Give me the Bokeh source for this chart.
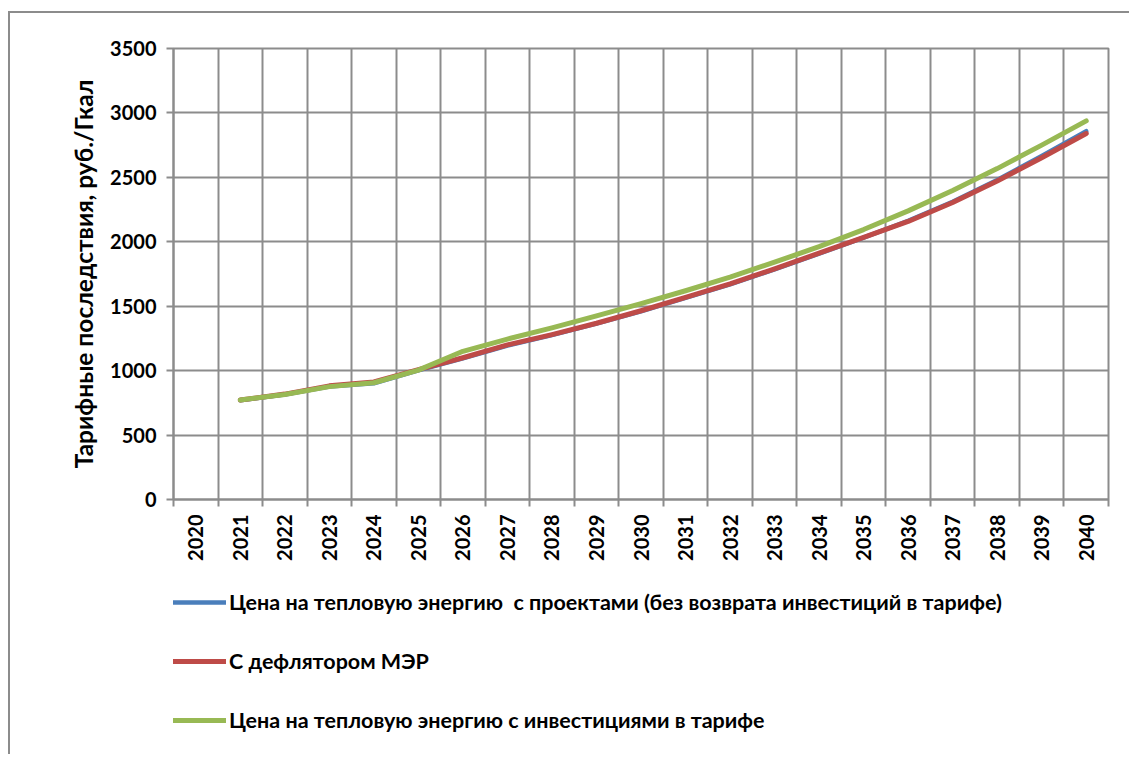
import math
from bokeh.plotting import figure
from bokeh.layouts import column
from bokeh.models import FixedTicker, Legend, LegendItem, Range1d
from bokeh.embed import file_html
from bokeh.resources import INLINE

# ---- data ----
years = [2021, 2022, 2023, 2024, 2025, 2026, 2027, 2028, 2029, 2030,
         2031, 2032, 2033, 2034, 2035, 2036, 2037, 2038, 2039, 2040]
price_projects = [770, 815, 876, 902, 1002, 1095, 1195, 1276, 1365, 1460,
                  1565, 1670, 1786, 1908, 2032, 2162, 2310, 2480, 2665, 2858]
price_deflator = [772, 818, 882, 912, 1008, 1100, 1200, 1280, 1368, 1465,
                  1568, 1674, 1790, 1912, 2034, 2158, 2305, 2472, 2652, 2840]
price_invest = [772, 815, 876, 906, 1004, 1150, 1245, 1332, 1425, 1520,
                1620, 1726, 1842, 1962, 2095, 2240, 2398, 2568, 2750, 2938]
axis_years = list(range(2020, 2041))
y_ticks = [0, 500, 1000, 1500, 2000, 2500, 3000, 3500]

labels = [
    "Цена на тепловую энергию  с проектами (без возврата инвестиций в тарифе)",
    "С дефлятором МЭР",
    "Цена на тепловую энергию с инвестициями в тарифе",
]
colors = ["#4A7EBB", "#BE4B48", "#98B954"]
series = [price_projects, price_deflator, price_invest]
widths = [4.5, 5, 5]

GRID = "#8c8c8c"
FONT = "Lato"
W = 1119

# ---------------- main chart ----------------
p = figure(frame_width=935, frame_height=451,
           min_border_left=163, min_border_top=35,
           min_border_right=21, min_border_bottom=70,
           x_range=Range1d(axis_years[0] - 0.5, axis_years[-1] + 0.5),
           y_range=Range1d(0, 3500),
           output_backend="svg", toolbar_location=None)
p.outline_line_color = GRID
p.outline_line_width = 2
p.background_fill_color = "white"
p.border_fill_color = "white"

boundaries = [y - 0.5 for y in axis_years] + [axis_years[-1] + 0.5]
p.xgrid.ticker = FixedTicker(ticks=boundaries)
p.ygrid.ticker = FixedTicker(ticks=y_ticks)
for g in (p.xgrid, p.ygrid):
    g.grid_line_color = GRID
    g.grid_line_width = 2

xa = p.xaxis[0]
xa.ticker = FixedTicker(ticks=axis_years, minor_ticks=boundaries)
xa.major_tick_out = 0
xa.major_tick_in = 0
xa.minor_tick_out = 7
xa.minor_tick_in = 0
xa.minor_tick_line_color = GRID
xa.minor_tick_line_width = 2
xa.axis_line_color = GRID
xa.axis_line_width = 2
xa.major_label_orientation = math.pi / 2
xa.major_label_standoff = 8
xa.major_label_text_font = FONT
xa.major_label_text_font_style = "bold"
xa.major_label_text_font_size = "20px"
xa.major_label_text_color = "black"

ya = p.yaxis[0]
ya.ticker = FixedTicker(ticks=y_ticks)
ya.major_tick_out = 7
ya.major_tick_in = 0
ya.major_tick_line_color = GRID
ya.major_tick_line_width = 2
ya.minor_tick_line_color = None
ya.axis_line_color = GRID
ya.axis_line_width = 2
ya.major_label_standoff = 10
ya.major_label_text_font = FONT
ya.major_label_text_font_style = "bold"
ya.major_label_text_font_size = "20px"
ya.major_label_text_color = "black"
ya.axis_label = "Тарифные последствия, руб./Гкал"
ya.axis_label_text_font = FONT
ya.axis_label_text_font_style = "bold"
ya.axis_label_text_font_size = "24.5px"
ya.axis_label_text_color = "black"
ya.axis_label_standoff = 9

for vals, c, w in zip(series, colors, widths):
    p.line(years, vals, line_color=c, line_width=w,
           line_cap="round", line_join="round")

# ---------------- legend strip below the chart ----------------
LEG_H = 185
q = figure(width=W, height=LEG_H, min_border=0,
           x_range=Range1d(0, 1), y_range=Range1d(0, 1),
           x_axis_type=None, y_axis_type=None,
           output_backend="svg", toolbar_location=None)
q.outline_line_color = None
q.grid.visible = False
q.background_fill_color = "white"
q.border_fill_color = "white"

leg_renderers = []
for vals, c, w in zip(series, colors, widths):
    # the series lie outside this strip's view; only their legend keys show
    r = q.line(years, vals, line_color=c, line_width=w,
               line_cap="round", line_join="round")
    leg_renderers.append(r)

legend = Legend(items=[LegendItem(label=l, renderers=[r]) for l, r in zip(labels, leg_renderers)],
                location=(0, 21), orientation="vertical",
                glyph_width=53, glyph_height=20, spacing=33, label_standoff=3,
                label_height=20, padding=0, margin=0,
                border_line_color=None, background_fill_alpha=0,
                label_text_font=FONT, label_text_font_style="bold",
                label_text_font_size="21.5px", label_text_color="black")
q.add_layout(legend)

layout = column(p, q, spacing=0, margin=(11, 0, 0, 8),
                styles={"border-left": f"2px solid {GRID}",
                        "border-top": f"2px solid {GRID}",
                        "border-right": "none",
                        "border-bottom": "none"})
open("out.html", "w").write(file_html(layout, INLINE))
